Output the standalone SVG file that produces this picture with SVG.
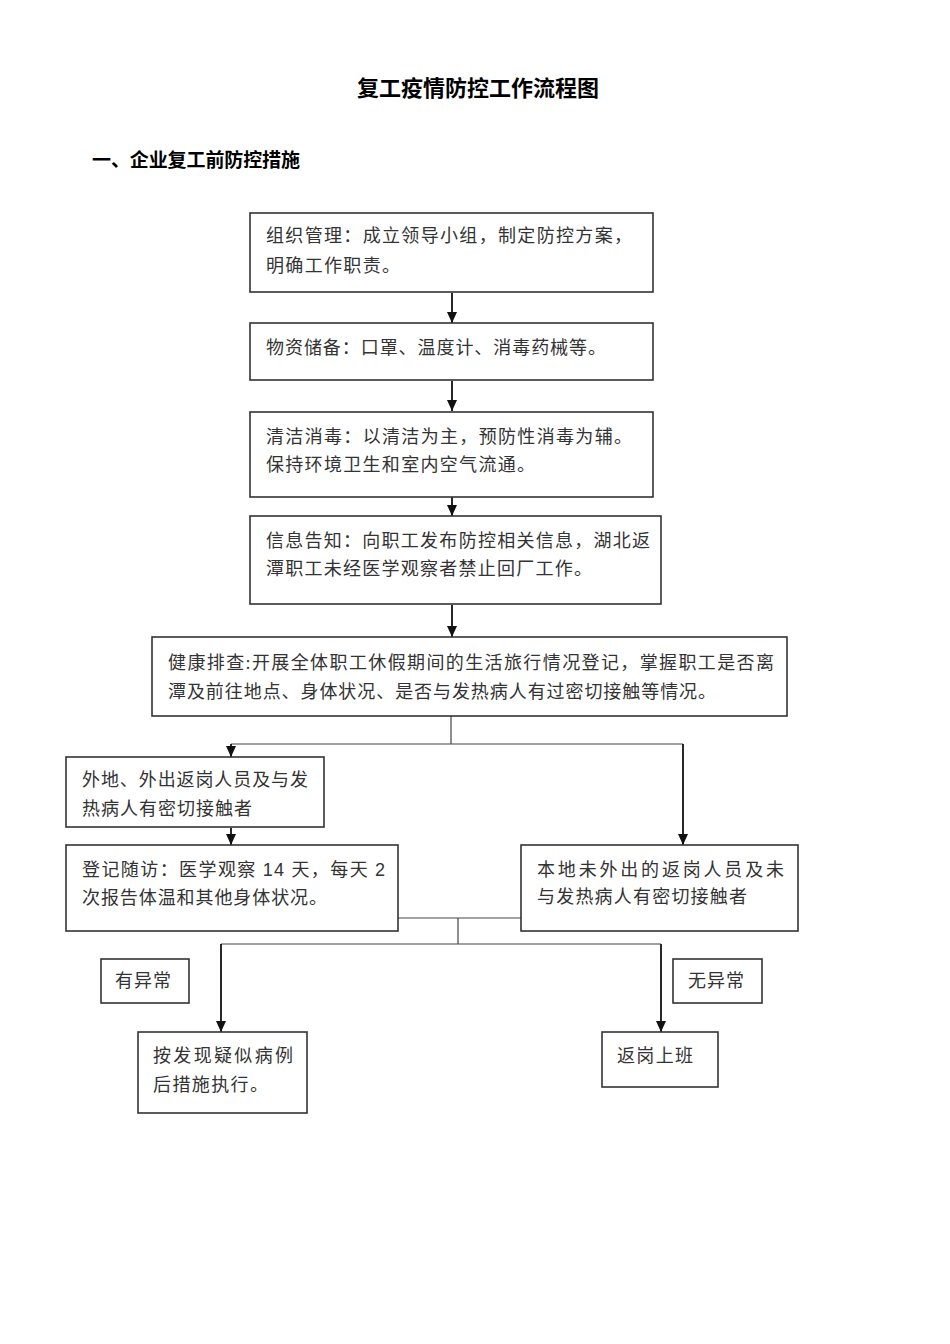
<svg xmlns="http://www.w3.org/2000/svg" width="950" height="1344" viewBox="0 0 950 1344">
<defs>
<marker id="ah" markerUnits="userSpaceOnUse" markerWidth="11" markerHeight="10" refX="11" refY="5" orient="auto" viewBox="0 0 11 10">
<path d="M0,0 L11,5 L0,10 Z" fill="#111"/>
</marker>
<style>
.box{fill:#fff;stroke:#333;stroke-width:1.6}
.t{font-family:"Liberation Serif","Noto Sans CJK SC",serif;font-size:18px;fill:#333}
.d{font-family:"Liberation Sans","Noto Sans CJK SC",sans-serif}
.h{font-family:"Liberation Sans","Noto Sans CJK SC",sans-serif;font-weight:bold;fill:#000}
.arr{fill:none;stroke:#111;stroke-width:1.8}
.thin{fill:none;stroke:#444;stroke-width:1.2}
</style>
</defs>
<rect width="950" height="1344" fill="#fff"/>
<text class="h" x="478" y="96" font-size="22" text-anchor="middle">复工疫情防控工作流程图</text>
<text class="h" x="92" y="167" font-size="19" textLength="208">一、企业复工前防控措施</text>

<g id="connectors">
<line class="arr" x1="452" y1="293" x2="452" y2="323" marker-end="url(#ah)"/>
<line class="arr" x1="452" y1="381" x2="452" y2="411" marker-end="url(#ah)"/>
<line class="arr" x1="452" y1="497" x2="452" y2="516" marker-end="url(#ah)"/>
<line class="arr" x1="452" y1="605" x2="452" y2="637" marker-end="url(#ah)"/>
<polyline class="thin" points="451,716 451,744"/>
<polyline class="thin" points="231,744 683,744"/>
<line class="arr" x1="231" y1="744" x2="231" y2="757" marker-end="url(#ah)"/>
<line class="arr" x1="683" y1="744" x2="683" y2="845" marker-end="url(#ah)"/>
<line class="arr" x1="231" y1="828" x2="231" y2="845" marker-end="url(#ah)"/>
<polyline class="thin" points="398,918 521,918"/>
<polyline class="thin" points="458,918 458,944"/>
<polyline class="thin" points="221,944 661,944"/>
<line class="arr" x1="221" y1="944" x2="221" y2="1032" marker-end="url(#ah)"/>
<line class="arr" x1="661" y1="944" x2="661" y2="1032" marker-end="url(#ah)"/>
</g>

<g id="n1">
<rect class="box" x="250" y="213" width="403" height="79"/>
<text class="t" x="266" y="242" textLength="366">组织管理：成立领导小组，制定防控方案，</text>
<text class="t" x="266" y="272" textLength="134">明确工作职责。</text>
</g>
<g id="n2">
<rect class="box" x="250" y="323" width="403" height="57"/>
<text class="t" x="266" y="354" textLength="340">物资储备：口罩、温度计、消毒药械等。</text>
</g>
<g id="n3">
<rect class="box" x="250" y="412" width="403" height="85"/>
<text class="t" x="266" y="443" textLength="366">清洁消毒：以清洁为主，预防性消毒为辅。</text>
<text class="t" x="266" y="471" textLength="269">保持环境卫生和室内空气流通。</text>
</g>
<g id="n4">
<rect class="box" x="250" y="516" width="411" height="88"/>
<text class="t" x="266" y="547" textLength="384">信息告知：向职工发布防控相关信息，湖北返</text>
<text class="t" x="266" y="575" textLength="326">潭职工未经医学观察者禁止回厂工作。</text>
</g>
<g id="n5">
<rect class="box" x="152" y="637" width="635" height="79"/>
<text class="t" x="168" y="669" textLength="606">健康排查:开展全体职工休假期间的生活旅行情况登记，掌握职工是否离</text>
<text class="t" x="168" y="698" textLength="548">潭及前往地点、身体状况、是否与发热病人有过密切接触等情况。</text>
</g>
<g id="n6">
<rect class="box" x="66" y="757" width="258" height="70"/>
<text class="t" x="82" y="786" textLength="226">外地、外出返岗人员及与发</text>
<text class="t" x="82" y="815" textLength="170">热病人有密切接触者</text>
</g>
<g id="n7">
<rect class="box" x="66" y="845" width="332" height="86"/>
<text class="t" x="82" y="876" textLength="303">登记随访：医学观察 <tspan class="d">14</tspan> 天，每天 <tspan class="d">2</tspan></text>
<text class="t" x="82" y="904" textLength="245">次报告体温和其他身体状况。</text>
</g>
<g id="n8">
<rect class="box" x="521" y="845" width="277" height="86"/>
<text class="t" x="537" y="876" textLength="247">本地未外出的返岗人员及未</text>
<text class="t" x="537" y="903" textLength="210">与发热病人有密切接触者</text>
</g>
<g id="l1">
<rect class="box" x="101" y="959" width="88" height="44"/>
<text class="t" x="115" y="987" textLength="56">有异常</text>
</g>
<g id="l2">
<rect class="box" x="673" y="959" width="89" height="44"/>
<text class="t" x="688" y="987" textLength="56">无异常</text>
</g>
<g id="n9">
<rect class="box" x="138" y="1032" width="169" height="81"/>
<text class="t" x="153" y="1062" textLength="140">按发现疑似病例</text>
<text class="t" x="153" y="1091" textLength="115">后措施执行。</text>
</g>
<g id="n10">
<rect class="box" x="602" y="1032" width="116" height="55"/>
<text class="t" x="617" y="1062" textLength="76">返岗上班</text>
</g>
</svg>
